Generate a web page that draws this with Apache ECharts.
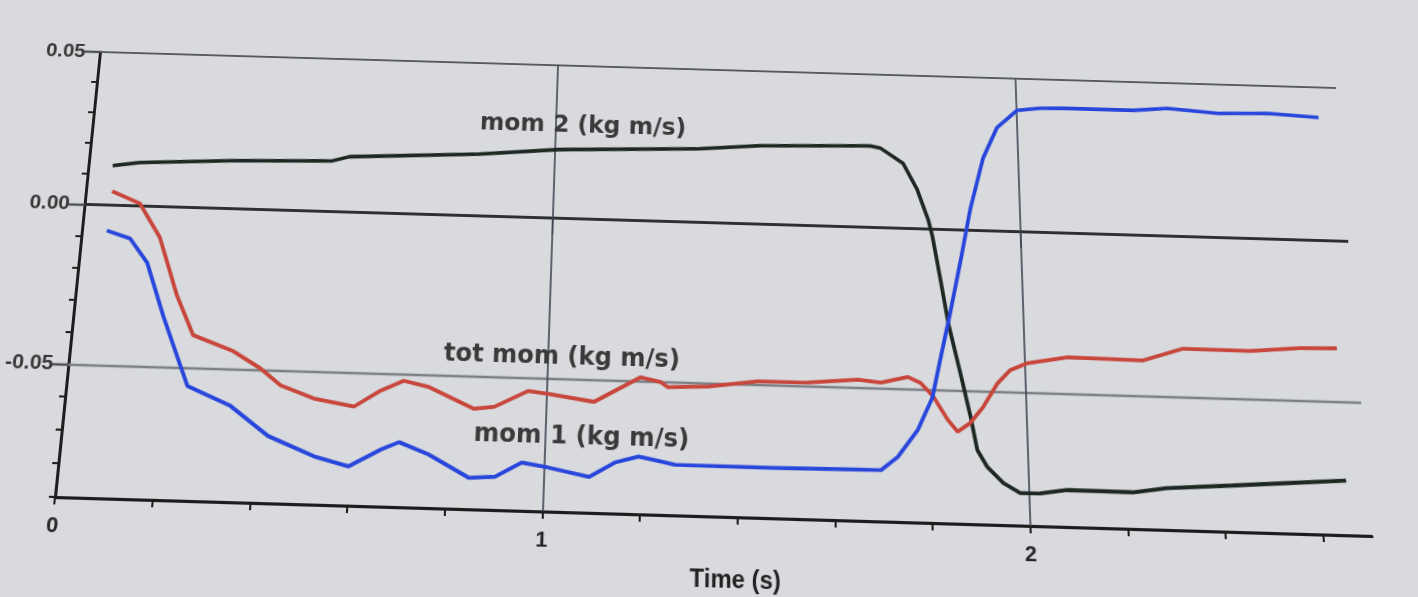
<!DOCTYPE html>
<html>
<head>
<meta charset="utf-8">
<script src="https://cdn.jsdelivr.net/npm/echarts@6/dist/echarts.min.js"></script>
<style>
html,body{margin:0;padding:0;width:1418px;height:597px;overflow:hidden;background:#d8dadd;}
#chart{position:absolute;left:0;top:0;width:1418px;height:597px;transform-origin:0 0;}
</style>
</head>
<body>
<div id="chart"></div>
<script>
// ---- data: [time (s), momentum (kg m/s)] ----
const mom2 = [
  [0.052,0.0128],[0.110,0.0140],[0.309,0.0155],[0.523,0.0164],[0.559,0.0179],
  [0.837,0.0200],[1.008,0.0222],[1.312,0.0238],[1.442,0.0254],[1.681,0.0264],
  [1.703,0.0258],[1.752,0.0210],[1.781,0.0128],[1.804,0.0029],[1.812,-0.0022],
  [1.827,-0.0157],[1.842,-0.0297],[1.865,-0.0450],[1.884,-0.0582],[1.896,-0.0680],
  [1.916,-0.0730],[1.948,-0.0776],[1.982,-0.0804],[2.023,-0.0803],[2.079,-0.0791],
  [2.214,-0.0792],[2.284,-0.0777],[2.420,-0.0763],[2.524,-0.0752],[2.656,-0.0738]
];
const mom1 = [
  [0.053,-0.0081],[0.104,-0.0104],[0.145,-0.0179],[0.189,-0.0344],[0.252,-0.0556],
  [0.345,-0.0613],[0.427,-0.0700],[0.525,-0.0757],[0.597,-0.0784],[0.663,-0.0730],
  [0.699,-0.0707],[0.761,-0.0741],[0.846,-0.0807],[0.900,-0.0802],[0.954,-0.0757],
  [1.010,-0.0770],[1.094,-0.0794],[1.146,-0.0749],[1.195,-0.0729],[1.243,-0.0742],
  [1.270,-0.0750],[1.476,-0.0751],[1.696,-0.0748],[1.731,-0.0707],[1.773,-0.0625],
  [1.805,-0.0525],[1.824,-0.0402],[1.847,-0.0257],[1.870,-0.0103],[1.894,0.0066],
  [1.925,0.0235],[1.957,0.0336],[2.002,0.0395],[2.052,0.0404],[2.111,0.0406],
  [2.255,0.0406],[2.329,0.0416],[2.439,0.0404],[2.548,0.0409],[2.657,0.0400]
];
const totMom = [
  [0.056,0.0045],[0.118,0.0008],[0.167,-0.0098],[0.214,-0.0279],[0.255,-0.0400],
  [0.342,-0.0446],[0.401,-0.0496],[0.446,-0.0546],[0.517,-0.0583],[0.601,-0.0604],
  [0.655,-0.0553],[0.702,-0.0521],[0.753,-0.0537],[0.851,-0.0600],[0.893,-0.0592],
  [0.962,-0.0541],[1.004,-0.0548],[1.100,-0.0568],[1.196,-0.0489],[1.238,-0.0502],
  [1.253,-0.0517],[1.337,-0.0511],[1.441,-0.0491],[1.545,-0.0490],[1.650,-0.0477],
  [1.698,-0.0484],[1.754,-0.0464],[1.781,-0.0481],[1.807,-0.0522],[1.836,-0.0591],
  [1.856,-0.0626],[1.883,-0.0598],[1.911,-0.0548],[1.942,-0.0475],[1.969,-0.0434],
  [2.006,-0.0411],[2.091,-0.0389],[2.249,-0.0392],[2.334,-0.0352],[2.475,-0.0353],
  [2.580,-0.0340],[2.658,-0.0337]
];
const seriesNames = ['mom 2 (kg m/s)', 'tot mom (kg m/s)', 'mom 1 (kg m/s)'];
const xTicks = [0, 0.2, 0.4, 0.6, 0.8, 1, 1.2, 1.4, 1.6, 1.8, 2, 2.2, 2.4, 2.6];
const xTickLabels = [0, 1, 2];
const xGridValues = [1, 2];
const yTickLabels = [0.05, 0, -0.05];
const yGridValues = [0.05, 0, -0.05];

// ---- styling / layout ----
const X_MIN = 0, X_MAX = 2.7, Y_MIN = -0.09, Y_MAX = 0.05;
const GRID = {left: 76, right: 64, top: 66, bottom: 84};
const W = 1418, H = 597;
// where the plot corners appear in the (photographed, tilted) reference view
const viewCorners = [[100, 52], [55, 497], [1372, 536], [1336, 88]];

const LABEL_FONT = 'DejaVu Sans';
const AXIS_FONT = 'Liberation Sans';
const TEXT = '#383838';
const AXIS = '#1d1d1d';
const VGRID = '#3f4452';
const gridLineStyle = {
  '0.05': {color:'#585a5e', width:2.2, type:'solid'},
  '0':    {color:'#2e2f31', width:3, type:'solid'},
  '-0.05':{color:'#7d8086', width:2.4, type:'solid'}
};
const labelAnchors = [[1.06, 0.030], [1.03, -0.0435], [1.076, -0.0678]];
const colors = ['#1e2823', '#c8463c', '#2846dc'];

// perspective of the photographed screen: map flat plot rectangle onto the view corners
function solveHomography(src, dst) {
  const A = [], b = [];
  for (let i = 0; i < 4; i++) {
    const [x, y] = src[i], [u, v] = dst[i];
    A.push([x, y, 1, 0, 0, 0, -u * x, -u * y]); b.push(u);
    A.push([0, 0, 0, x, y, 1, -v * x, -v * y]); b.push(v);
  }
  const n = 8;
  for (let c = 0; c < n; c++) {
    let p = c;
    for (let r = c + 1; r < n; r++) if (Math.abs(A[r][c]) > Math.abs(A[p][c])) p = r;
    [A[c], A[p]] = [A[p], A[c]]; [b[c], b[p]] = [b[p], b[c]];
    for (let r = 0; r < n; r++) {
      if (r === c) continue;
      const f = A[r][c] / A[c][c];
      for (let k = c; k < n; k++) A[r][k] -= f * A[c][k];
      b[r] -= f * b[c];
    }
  }
  return b.map((v, i) => v / A[i][i]);
}
const L = GRID.left, T = GRID.top, R = W - GRID.right, B = H - GRID.bottom;
const hm = solveHomography([[L, T], [L, B], [R, B], [R, T]], viewCorners);
const el = document.getElementById('chart');
el.style.transform = `matrix3d(${hm[0]},${hm[3]},0,${hm[6]},${hm[1]},${hm[4]},0,${hm[7]},0,0,1,0,${hm[2]},${hm[5]},0,1)`;

const chart = echarts.init(el);
const curveData = [mom2, totMom, mom1];

const curveSeries = curveData.map((d, i) => ({
  name: seriesNames[i],
  type: 'line',
  data: d,
  showSymbol: false,
  smooth: false,
  z: 5,
  lineStyle: {color: colors[i], width: 3.8},
  markPoint: {
    silent: true,
    symbol: 'rect',
    symbolSize: 1,
    itemStyle: {color: 'rgba(0,0,0,0)'},
    label: {
      show: true, position: 'inside',
      formatter: seriesNames[i],
      fontFamily: LABEL_FONT, fontSize: 24, fontWeight: 'bold', color: '#3a3a3a'
    },
    data: [{coord: labelAnchors[i]}]
  }
}));

const gridSeries = {
  type: 'line',
  data: [],
  z: 1,
  silent: true,
  markLine: {
    silent: true,
    symbol: 'none',
    label: {show: false},
    animation: false,
    data: [
      ...yGridValues.map(v => ({yAxis: v, lineStyle: gridLineStyle[String(v)]})),
      ...xGridValues.map(v => ({xAxis: v, lineStyle: {color: VGRID, width: 1.6, type: 'solid'}}))
    ]
  }
};

chart.setOption({
  animation: false,
  backgroundColor: 'transparent',
  grid: GRID,
  xAxis: [
    {
      type: 'value', min: X_MIN, max: X_MAX, position: 'bottom',
      name: 'Time (s)', nameLocation: 'middle', nameGap: 48,
      nameTextStyle: {fontFamily: AXIS_FONT, fontSize: 23, fontWeight: 'bold', color: '#222', padding: [0, 0, 0, 44]},
      axisLine: {show: true, onZero: false, lineStyle: {color: AXIS, width: 3}},
      axisTick: {show: true, customValues: xTicks, length: 7, lineStyle: {color: AXIS, width: 2}},
      axisLabel: {
        customValues: xTickLabels,
        formatter: v => String(Math.round(v)),
        fontFamily: AXIS_FONT, fontSize: 21, fontWeight: 'bold', color: '#262626', margin: 17
      },
      splitLine: {show: false}
    },
    {
      type: 'value', min: X_MIN, max: X_MAX, position: 'bottom',
      axisLine: {show: false},
      axisTick: {show: true, customValues: xGridValues, length: 16, lineStyle: {color: VGRID, width: 1.8}},
      axisLabel: {show: false},
      splitLine: {show: false}
    }
  ],
  yAxis: [
    {
      type: 'value', min: Y_MIN, max: Y_MAX, interval: 0.01, position: 'left',
      axisLine: {show: true, onZero: false, lineStyle: {color: AXIS, width: 3}},
      axisTick: {show: true, length: 6, lineStyle: {color: AXIS, width: 2}},
      axisLabel: {show: false},
      splitLine: {show: false}
    },
    {
      type: 'value', min: Y_MIN, max: Y_MAX, position: 'left',
      axisLine: {show: false},
      axisTick: {show: true, customValues: yTickLabels, length: 16, lineStyle: {color: '#4a4c50', width: 2.4}},
      axisLabel: {
        customValues: yTickLabels,
        formatter: v => v.toFixed(2),
        fontFamily: AXIS_FONT, fontSize: 21, fontWeight: 'bold', color: TEXT, margin: 15
      },
      splitLine: {show: false}
    }
  ],
  series: [gridSeries, ...curveSeries]
});
</script>
</body>
</html>
